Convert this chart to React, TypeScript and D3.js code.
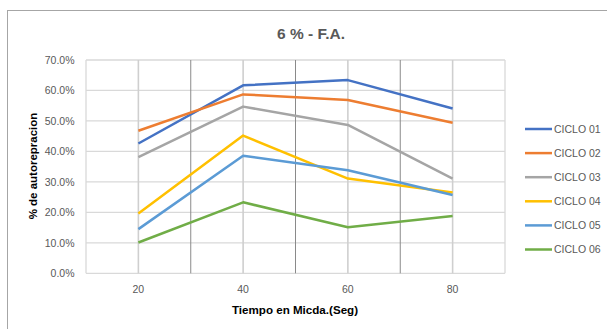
import React from "react";
import * as d3 from "d3";

// Measurement times (seconds) on the x axis
const tiempos = [20, 40, 60, 80];

// Self-repair percentage per cycle
const series = ["CICLO 01", "CICLO 02", "CICLO 03", "CICLO 04", "CICLO 05", "CICLO 06"];
const ciclo01 = [42.6, 61.7, 63.4, 54.1];
const ciclo02 = [46.8, 58.7, 56.9, 49.4];
const ciclo03 = [38.1, 54.7, 48.7, 31.1];
const ciclo04 = [19.6, 45.2, 31.1, 26.5];
const ciclo05 = [14.5, 38.6, 33.8, 25.7];
const ciclo06 = [10.1, 23.3, 15.1, 18.8];
const values = [ciclo01, ciclo02, ciclo03, ciclo04, ciclo05, ciclo06];

const colors = ["#4472C4", "#ED7D31", "#A5A5A5", "#FFC000", "#5B9BD5", "#70AD47"];

const yTicks = [0, 10, 20, 30, 40, 50, 60, 70];
const xTicks = [20, 40, 60, 80];
const minorX = [30, 50, 70];

const title = "6 % - F.A.";
const xTitle = "Tiempo en Micda.(Seg)";
const yTitle = "% de autorepracion";

const W = 607;
const H = 329;
const plot = { left: 86, right: 505, top: 60, bottom: 273.3 };
const FONT = "'Liberation Sans', Arial, sans-serif";

export default function App() {
  const x = d3.scaleLinear().domain([10, 90]).range([plot.left, plot.right]);
  const y = d3.scaleLinear().domain([0, 70]).range([plot.bottom, plot.top]);

  const line = d3
    .line<number>()
    .x((_, i) => x(tiempos[i]))
    .y((d) => y(d));

  return (
    <svg
      width={W}
      height={H}
      style={{ position: "absolute", left: 0, top: 0, background: "#fff" }}
      fontFamily={FONT}
    >
      <rect x={0} y={0} width={W} height={H} fill="#fff" />
      {/* chart frame */}
      <rect x={7.5} y={10.5} width={W} height={H} fill="none" stroke="#a6a6a6" strokeWidth={1} />

      <text
        x={311}
        y={38.5}
        textAnchor="middle"
        fontSize={15.5}
        fontWeight="bold"
        fill="#595959"
      >
        {title}
      </text>

      {/* horizontal gridlines */}
      {yTicks.map((t) => (
        <line
          key={"h" + t}
          x1={plot.left}
          x2={plot.right}
          y1={y(t)}
          y2={y(t)}
          stroke="#d9d9d9"
          strokeWidth={1.3}
        />
      ))}
      {/* left and right plot edges */}
      <line x1={plot.left} x2={plot.left} y1={plot.top} y2={plot.bottom} stroke="#d9d9d9" strokeWidth={1.3} />
      <line x1={plot.right} x2={plot.right} y1={plot.top} y2={plot.bottom} stroke="#d9d9d9" strokeWidth={1.3} />

      {/* vertical gridlines at category positions */}
      {xTicks.map((t) => (
        <line
          key={"v" + t}
          x1={x(t)}
          x2={x(t)}
          y1={plot.top}
          y2={plot.bottom}
          stroke="#cfcfcf"
          strokeWidth={1.6}
        />
      ))}
      {/* darker gridlines between categories */}
      {minorX.map((t) => (
        <line
          key={"m" + t}
          x1={x(t)}
          x2={x(t)}
          y1={plot.top}
          y2={plot.bottom}
          stroke="#8a8a8a"
          strokeWidth={1}
        />
      ))}

      {/* y tick labels */}
      {yTicks.map((t) => (
        <text
          key={"yl" + t}
          x={74.5}
          y={y(t) + 3.7}
          textAnchor="end"
          fontSize={10.5}
          fill="#595959"
        >
          {t.toFixed(1) + "%"}
        </text>
      ))}

      {/* x tick labels */}
      {xTicks.map((t) => (
        <text
          key={"xl" + t}
          x={x(t)}
          y={293.3}
          textAnchor="middle"
          fontSize={10.5}
          fill="#595959"
        >
          {t}
        </text>
      ))}

      <text x={295} y={314} textAnchor="middle" fontSize={11.6} fontWeight="bold" fill="#000">
        {xTitle}
      </text>
      <text
        transform={`translate(37,166) rotate(-90)`}
        textAnchor="middle"
        fontSize={11.5}
        fontWeight="bold"
        fill="#000"
      >
        {yTitle}
      </text>

      {/* series lines */}
      {values.map((v, i) => (
        <path
          key={series[i]}
          d={line(v) || ""}
          fill="none"
          stroke={colors[i]}
          strokeWidth={2.5}
          strokeLinejoin="round"
        />
      ))}

      {/* legend */}
      {series.map((s, i) => {
        const ly = 129 + i * 24.1;
        return (
          <g key={"lg" + s}>
            <line x1={525} x2={552} y1={ly} y2={ly} stroke={colors[i]} strokeWidth={2.5} />
            <text x={554} y={ly + 3.8} fontSize={10.5} fill="#595959">
              {s}
            </text>
          </g>
        );
      })}
    </svg>
  );
}
